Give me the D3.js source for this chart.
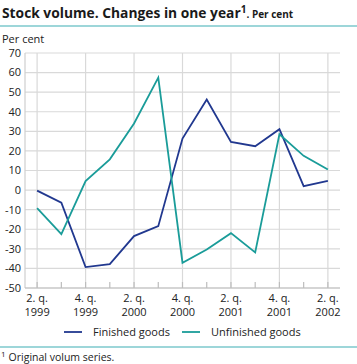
<!DOCTYPE html>
<html><head><meta charset="utf-8">
<script src="https://cdn.jsdelivr.net/npm/d3@7"></script>
<style>
body{margin:0;background:#fff;}
svg{display:block;font-family:"Open Sans",sans-serif;}
</style></head>
<body><svg id="c" width="357" height="364"></svg>
<script>
const quarters = ["2q1999","3q1999","4q1999","1q2000","2q2000","3q2000","4q2000","1q2001","2q2001","3q2001","4q2001","1q2002","2q2002"];
const tickLabels = [["2. q.","1999"],null,["4. q.","1999"],null,["2. q.","2000"],null,["4. q.","2000"],null,["2. q.","2001"],null,["4. q.","2001"],null,["2. q.","2002"]];
const finishedGoods = [-0.3,-6.4,-39.3,-37.8,-23.5,-18.4,26.3,46.2,24.6,22.4,31.1,2,4.7];
const unfinishedGoods = [-9.2,-22.5,4.6,15.7,34,57.4,-37.1,-30.3,-22,-31.8,28.5,17.5,10.5];
const yTicks = [70,60,50,40,30,20,10,0,-10,-20,-30,-40,-50];
const seriesNames = ["Finished goods","Unfinished goods"];
const colors = ["#21388f","#1a9c99"];

const svg = d3.select("#c");
const L = 25, R = 340, T = 53, B = 288;
const x = d3.scalePoint().domain(quarters).range([L, R]).padding(0.5);
const y = d3.scaleLinear().domain([-50,70]).range([B, T]);

// title
const title = svg.append("text").attr("x",2).attr("y",18).attr("fill","#1a1a1a").attr("font-weight","bold");
title.append("tspan").attr("font-size","13.8px").text("Stock volume. Changes in one year");
title.append("tspan").attr("font-size","10px").attr("dy","-5").text("1");
title.append("tspan").attr("font-size","10px").attr("dy","5").text(". Per cent");
svg.append("line").attr("x1",0).attr("x2",357).attr("y1",26).attr("y2",26).attr("stroke","#7cc8cc").attr("stroke-width",1.5);

svg.append("text").attr("x",2).attr("y",43).attr("font-size","11px").attr("fill","#222").text("Per cent");

// horizontal grid
const g = svg.append("g");
g.selectAll("line.h").data(yTicks).join("line").attr("class","h")
  .attr("x1",L).attr("x2",R).attr("y1",d=>y(d)).attr("y2",d=>y(d))
  .attr("stroke","#d9d9d9").attr("stroke-width",1.2);
// vertical grid at labelled quarters
g.selectAll("line.v").data(quarters.filter((q,i)=>tickLabels[i])).join("line").attr("class","v")
  .attr("x1",d=>x(d)).attr("x2",d=>x(d)).attr("y1",T).attr("y2",B)
  .attr("stroke","#d9d9d9").attr("stroke-width",1.2);
// axes
g.append("line").attr("x1",L).attr("x2",L).attr("y1",T).attr("y2",B).attr("stroke","#cfcfcf").attr("stroke-width",1.2);
g.append("line").attr("x1",L).attr("x2",R).attr("y1",B).attr("y2",B).attr("stroke","#bdbdbd").attr("stroke-width",1.2);
g.selectAll("line.t").data(quarters).join("line").attr("class","t")
  .attr("x1",d=>x(d)).attr("x2",d=>x(d)).attr("y1",B-6).attr("y2",B)
  .attr("stroke","#bdbdbd").attr("stroke-width",1.2);

// y tick labels
svg.selectAll("text.yl").data(yTicks).join("text").attr("class","yl")
  .attr("x",21).attr("y",d=>y(d)).attr("dy","0.35em").attr("text-anchor","end")
  .attr("font-size","11px").attr("fill","#222").text(d=>d);

// x tick labels
quarters.forEach((q,i)=>{
  if(!tickLabels[i]) return;
  const t = svg.append("text").attr("text-anchor","middle").attr("font-size","11px").attr("fill","#222");
  t.append("tspan").attr("x",x(q)).attr("y",302).text(tickLabels[i][0]);
  t.append("tspan").attr("x",x(q)).attr("y",316).text(tickLabels[i][1]);
});

// lines
const line = d3.line().x((d,i)=>x(quarters[i])).y(d=>y(d));
[finishedGoods, unfinishedGoods].forEach((s,k)=>{
  svg.append("path").datum(s).attr("d",line).attr("fill","none")
    .attr("stroke",colors[k]).attr("stroke-width",1.8).attr("stroke-linejoin","miter");
});

// legend
const legX = [64,182];
seriesNames.forEach((n,k)=>{
  svg.append("line").attr("x1",legX[k]).attr("x2",legX[k]+18).attr("y1",332).attr("y2",332)
    .attr("stroke",colors[k]).attr("stroke-width",1.8);
  svg.append("text").attr("x",legX[k]+29).attr("y",332).attr("dy","0.35em")
    .attr("font-size","11px").attr("fill","#222").text(n);
});

svg.append("line").attr("x1",0).attr("x2",357).attr("y1",347).attr("y2",347).attr("stroke","#7cc8cc").attr("stroke-width",1.5);
const fn = svg.append("text").attr("x",1).attr("y",361).attr("fill","#222");
fn.append("tspan").attr("font-size","8px").attr("dy","-4").text("1");
fn.append("tspan").attr("font-size","10.5px").attr("dy","4").attr("dx","3").text("Original volum series.");
</script></body></html>
